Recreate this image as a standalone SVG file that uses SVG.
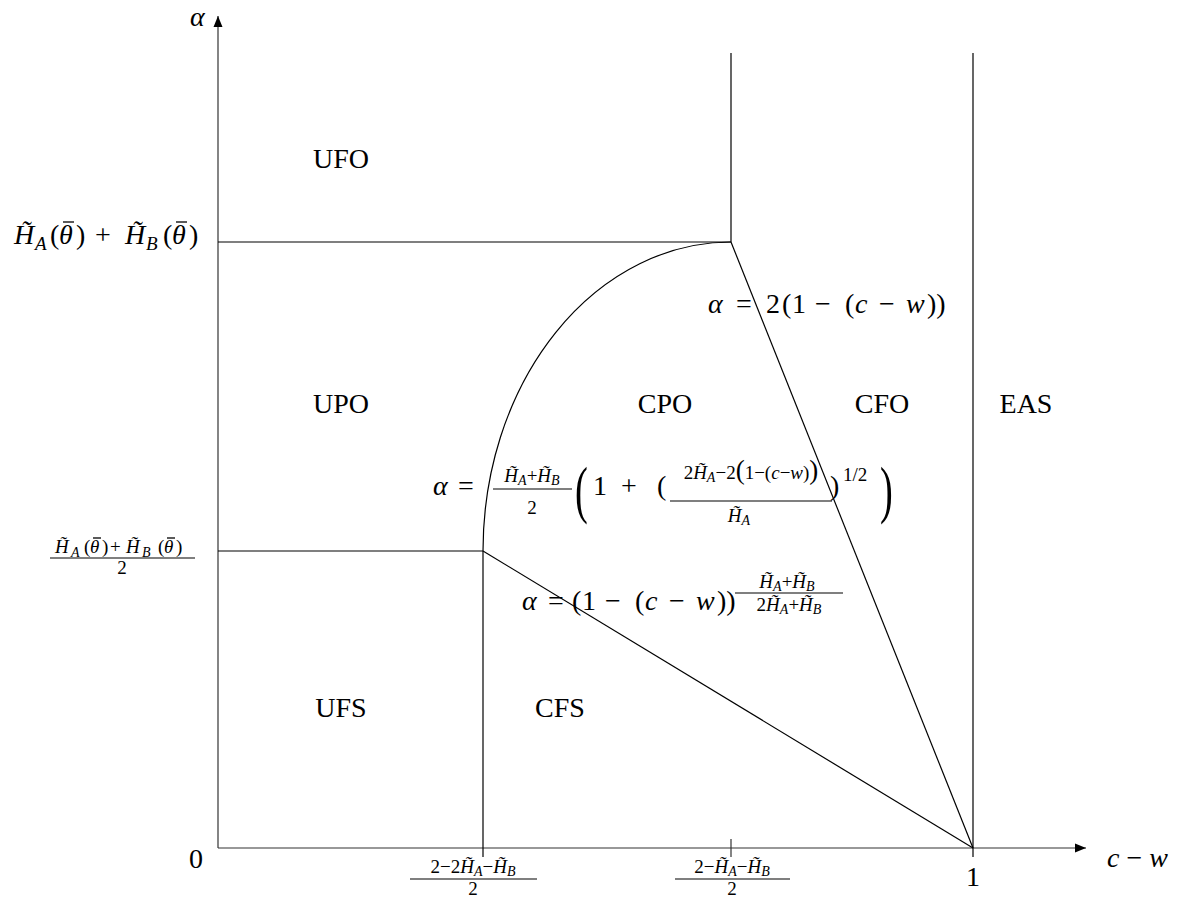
<svg xmlns="http://www.w3.org/2000/svg" width="1191" height="904" viewBox="0 0 1191 904" font-family="Liberation Serif, Tinos, Times New Roman, Nimbus Roman, FreeSerif, Noto Serif, DejaVu Serif, serif">
<style>
text{font-size:28px;fill:#000}
.i{font-style:italic}
.s{font-size:19px}
.ss{font-size:14px}
.big{font-size:64px}
.mid{font-size:27px}
.m{text-anchor:middle}
.ln{stroke:#000;stroke-width:1.2;fill:none}
.ax{stroke:#333;stroke-width:1.2;fill:none}
.bar{stroke:#000;stroke-width:1.3}
</style>
<defs>
<marker id="arr" markerWidth="12" markerHeight="10" refX="11" refY="5" orient="auto" markerUnits="userSpaceOnUse">
<path d="M0,0.5 L11,5 L0,9.5 Z" fill="#000"/>
</marker>
</defs>
<rect width="1191" height="904" fill="#fff"/>
<g id="axes">
<line class="ax" x1="218" y1="848" x2="218" y2="16" marker-end="url(#arr)"/>
<line class="ax" x1="218" y1="848" x2="1086" y2="848" marker-end="url(#arr)"/>
<line class="ax" x1="731" y1="839" x2="731" y2="857"/>
</g>
<g id="connectors">
<line class="ln" x1="218" y1="242" x2="731" y2="242"/>
<line class="ln" x1="218" y1="551" x2="483" y2="551"/>
<line class="ln" x1="483" y1="551" x2="483" y2="857"/>
<line class="ln" x1="731" y1="53" x2="731" y2="242"/>
<line class="ln" x1="973" y1="53" x2="973" y2="857"/>
<line class="ln" x1="731" y1="242" x2="973" y2="848"/>
<line class="ln" x1="483" y1="551" x2="973" y2="848"/>
<path class="ln" d="M483,551 A248,309 0 0 1 731,242" stroke-width="1.6"/>
</g>
<g id="axis-labels">
<text x="190" y="26" class="i">α</text>
<text x="1107" y="867"><tspan class="i">c</tspan> − <tspan class="i">w</tspan></text>
<text x="196" y="868" class="m">0</text>
<text x="973" y="886" class="m">1</text>
<text y="244"><tspan x="14" class="i">H&#x303;</tspan><tspan x="35" y="250" class="s i">A</tspan><tspan x="50" y="244">(</tspan><tspan x="59" class="i">θ</tspan><tspan x="76">)</tspan><tspan x="95">+</tspan><tspan x="125" class="i">H&#x303;</tspan><tspan x="146" y="250" class="s i">B</tspan><tspan x="163" y="244">(</tspan><tspan x="172" class="i">θ</tspan><tspan x="189">)</tspan></text>
<line class="bar" x1="63" y1="222" x2="74" y2="222"/>
<line class="bar" x1="176" y1="222" x2="187" y2="222"/>
<text y="553" class="s"><tspan x="55" class="i">H&#x303;</tspan><tspan x="71" y="557" class="ss i">A</tspan><tspan x="84" y="553">(</tspan><tspan x="90" class="i">θ</tspan><tspan x="102">)</tspan><tspan x="110">+</tspan><tspan x="126" class="i">H&#x303;</tspan><tspan x="142" y="557" class="ss i">B</tspan><tspan x="158" y="553">(</tspan><tspan x="164" class="i">θ</tspan><tspan x="176">)</tspan></text>
<line class="bar" x1="93" y1="538" x2="101" y2="538" stroke-width="1"/>
<line class="bar" x1="167" y1="538" x2="175" y2="538" stroke-width="1"/>
<line class="ln" x1="50" y1="558" x2="195" y2="558"/>
<text x="122" y="574" class="s m">2</text>
<text x="473" y="873" class="s m">2−2<tspan class="i">H&#x303;</tspan><tspan class="ss i" dy="3">A</tspan><tspan dy="-3">−</tspan><tspan class="i">H&#x303;</tspan><tspan class="ss i" dy="3">B</tspan></text>
<line class="ln" x1="410" y1="879" x2="537" y2="879"/>
<text x="473" y="895" class="s m">2</text>
<text x="732" y="873" class="s m">2−<tspan class="i">H&#x303;</tspan><tspan class="ss i" dy="3">A</tspan><tspan dy="-3">−</tspan><tspan class="i">H&#x303;</tspan><tspan class="ss i" dy="3">B</tspan></text>
<line class="ln" x1="675" y1="879" x2="790" y2="879"/>
<text x="732" y="895" class="s m">2</text>
</g>
<g id="region-UFO"><text x="341" y="168" class="m">UFO</text></g>
<g id="region-UPO"><text x="341" y="413" class="m">UPO</text></g>
<g id="region-CPO"><text x="665" y="413" class="m">CPO</text></g>
<g id="region-CFO"><text x="882" y="413" class="m">CFO</text></g>
<g id="region-EAS"><text x="1026" y="413" class="m">EAS</text></g>
<g id="region-UFS"><text x="341" y="717" class="m">UFS</text></g>
<g id="region-CFS"><text x="560" y="717" class="m">CFS</text></g>
<g id="formula-line1">
<text y="313"><tspan x="708" class="i">α</tspan><tspan x="736">=</tspan><tspan x="766">2</tspan><tspan x="782">(</tspan><tspan x="792">1</tspan><tspan x="815">−</tspan><tspan x="845">(</tspan><tspan x="855" class="i">c</tspan><tspan x="879">−</tspan><tspan x="906" class="i">w</tspan><tspan x="927">))</tspan></text>
</g>
<g id="formula-curve">
<text y="495"><tspan x="433" class="i">α</tspan><tspan x="458">=</tspan></text>
<text x="532" y="482" class="s m"><tspan class="i">H&#x303;</tspan><tspan class="ss i" dy="3">A</tspan><tspan dy="-3">+</tspan><tspan class="i">H&#x303;</tspan><tspan class="ss i" dy="3">B</tspan></text>
<line class="ln" x1="493" y1="489" x2="572" y2="489"/>
<text x="532" y="514" class="s m">2</text>
<text class="big" transform="translate(575,511) scale(0.6,1)">(</text>
<text y="495"><tspan x="593">1</tspan><tspan x="621">+</tspan><tspan x="657">(</tspan></text>
<text x="751" y="479" class="s m">2<tspan class="i">H&#x303;</tspan><tspan class="ss i" dy="3">A</tspan><tspan dy="-3">−2</tspan><tspan class="mid">(</tspan>1−(<tspan class="i">c</tspan>−<tspan class="i">w</tspan>)<tspan class="mid">)</tspan></text>
<line class="ln" x1="670" y1="501" x2="832" y2="501"/>
<text x="739" y="522" class="s m"><tspan class="i">H&#x303;</tspan><tspan class="ss i" dy="3">A</tspan></text>
<text x="830" y="495">)</text>
<text x="843" y="481" class="s">1/2</text>
<text class="big" transform="translate(880,511) scale(0.6,1)">)</text>
</g>
<g id="formula-line2">
<text y="610"><tspan x="522" class="i">α</tspan><tspan x="548">=</tspan><tspan x="572">(</tspan><tspan x="582">1</tspan><tspan x="605">−</tspan><tspan x="635">(</tspan><tspan x="645" class="i">c</tspan><tspan x="669">−</tspan><tspan x="696" class="i">w</tspan><tspan x="717">))</tspan></text>
<text x="787" y="588" class="s m"><tspan class="i">H&#x303;</tspan><tspan class="ss i" dy="3">A</tspan><tspan dy="-3">+</tspan><tspan class="i">H&#x303;</tspan><tspan class="ss i" dy="3">B</tspan></text>
<line class="ln" x1="735" y1="593" x2="843" y2="593"/>
<text x="789" y="611" class="s m">2<tspan class="i">H&#x303;</tspan><tspan class="ss i" dy="3">A</tspan><tspan dy="-3">+</tspan><tspan class="i">H&#x303;</tspan><tspan class="ss i" dy="3">B</tspan></text>
</g>
</svg>
